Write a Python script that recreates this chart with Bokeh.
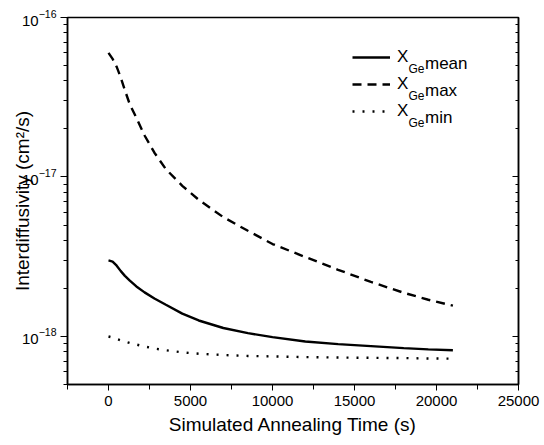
from bokeh.plotting import figure
from bokeh.models import (ColumnDataSource, LogAxis, SingleIntervalTicker, LogTicker,
                          Legend, LegendItem, Label, Range1d)
from bokeh.embed import file_html
from bokeh.resources import INLINE

# ---- data ----
time_s = [0, 250, 500, 750, 1000, 1300, 1700, 2200, 2800, 3500, 4500, 5500,
          7000, 8500, 10000, 12000, 14000, 16000, 18000, 19500, 21000]
d_mean = [3.0e-18, 2.95e-18, 2.78e-18, 2.57e-18, 2.4e-18, 2.24e-18, 2.06e-18,
          1.89e-18, 1.73e-18, 1.58e-18, 1.39e-18, 1.26e-18, 1.13e-18, 1.05e-18,
          0.99e-18, 0.93e-18, 0.895e-18, 0.87e-18, 0.845e-18, 0.83e-18, 0.82e-18]
d_max = [6.0e-17, 5.5e-17, 4.9e-17, 4.2e-17, 3.5e-17, 2.85e-17, 2.35e-17,
         1.82e-17, 1.42e-17, 1.12e-17, 8.8e-18, 7.2e-18, 5.6e-18, 4.6e-18,
         3.8e-18, 3.15e-18, 2.62e-18, 2.2e-18, 1.88e-18, 1.7e-18, 1.56e-18]
d_min = [1.0e-18, 0.985e-18, 0.965e-18, 0.945e-18, 0.93e-18, 0.91e-18, 0.89e-18,
         0.865e-18, 0.84e-18, 0.82e-18, 0.795e-18, 0.78e-18, 0.765e-18, 0.755e-18,
         0.75e-18, 0.743e-18, 0.738e-18, 0.735e-18, 0.732e-18, 0.728e-18, 0.726e-18]
series_names = ["mean", "max", "min"]

FONT = "Liberation Sans"

src = ColumnDataSource(dict(t=time_s, mean=d_mean, mx=d_max, mn=d_min))

p = figure(width=544, height=445, output_backend="svg", toolbar_location=None,
           y_axis_type="log", x_range=Range1d(-2500, 25000),
           y_range=Range1d(5e-19, 1e-16),
           min_border_left=67, min_border_right=26, min_border_top=17,
           min_border_bottom=61)
p.background_fill_color = "white"
p.border_fill_color = "white"
p.outline_line_color = "black"
p.outline_line_width = 1.5
p.xgrid.visible = False
p.ygrid.visible = False

r_mean = p.line("t", "mean", source=src, line_color="black", line_width=2.4)
r_max = p.line("t", "mx", source=src, line_color="black", line_width=2.4,
               line_dash="9 6")
r_min = p.line("t", "mn", source=src, line_color="black", line_width=2.4,
               line_dash="2 8")

# x axis
xa = p.xaxis[0]
xa.ticker = SingleIntervalTicker(interval=5000, num_minor_ticks=2)
xa.axis_label = "Simulated Annealing Time (s)"
xa.axis_label_text_font = FONT
xa.axis_label_text_font_style = "normal"
xa.axis_label_text_font_size = "19px"
xa.axis_label_text_color = "black"
xa.axis_label_standoff = 5
xa.major_label_text_font = FONT
xa.major_label_text_font_size = "15px"
xa.major_label_text_color = "black"
xa.major_label_standoff = 5
xa.major_tick_in = 0
xa.major_tick_out = 6
xa.minor_tick_in = 0
xa.minor_tick_out = 5
xa.axis_line_width = 1.5

# y axis
ya = p.yaxis[0]
ya.ticker = LogTicker(num_minor_ticks=10)
ya.axis_label = "Interdiffusivity (cm²/s)"
ya.axis_label_text_font = FONT
ya.axis_label_text_font_style = "normal"
ya.axis_label_text_font_size = "19px"
ya.axis_label_text_color = "black"
ya.axis_label_standoff = -14
ya.major_label_text_font = FONT
ya.major_label_text_font_size = "15px"
ya.major_label_text_color = "black"
ya.major_label_standoff = 4
ya.major_tick_in = 0
ya.major_tick_out = 7
ya.minor_tick_in = 0
ya.minor_tick_out = 4
ya.axis_line_width = 1.5

# right axis: inward ticks, labels hidden
ra = LogAxis(ticker=LogTicker(num_minor_ticks=10))
ra.major_label_text_font_size = "1px"
ra.major_label_text_alpha = 0
ra.major_tick_in = 6
ra.major_tick_out = 0
ra.minor_tick_in = 3
ra.minor_tick_out = 0
ra.axis_line_width = 1.5
p.add_layout(ra, "right")

# legend (line samples + "X"), subscripts via labels
legend = Legend(items=[LegendItem(label="X", renderers=[r]) for r in (r_mean, r_max, r_min)],
                location=(285, 263), glyph_width=38, glyph_height=20, spacing=7,
                label_standoff=7, label_text_font=FONT, label_text_font_size="17px",
                label_text_color="black",
                padding=0, margin=0, border_line_color=None,
                background_fill_alpha=0)
p.add_layout(legend)

for i, name in enumerate(series_names):
    base = 320.7 - 27 * i
    p.add_layout(Label(x=341, y=base - 5, x_units="screen", y_units="screen",
                       text="Ge", text_font=FONT, text_font_size="12px",
                       text_color="black", text_baseline="alphabetic"))
    p.add_layout(Label(x=357.5, y=base, x_units="screen", y_units="screen",
                       text=name, text_font=FONT, text_font_size="17px",
                       text_color="black", text_baseline="alphabetic"))

open("out.html", "w").write(file_html(p, INLINE))
